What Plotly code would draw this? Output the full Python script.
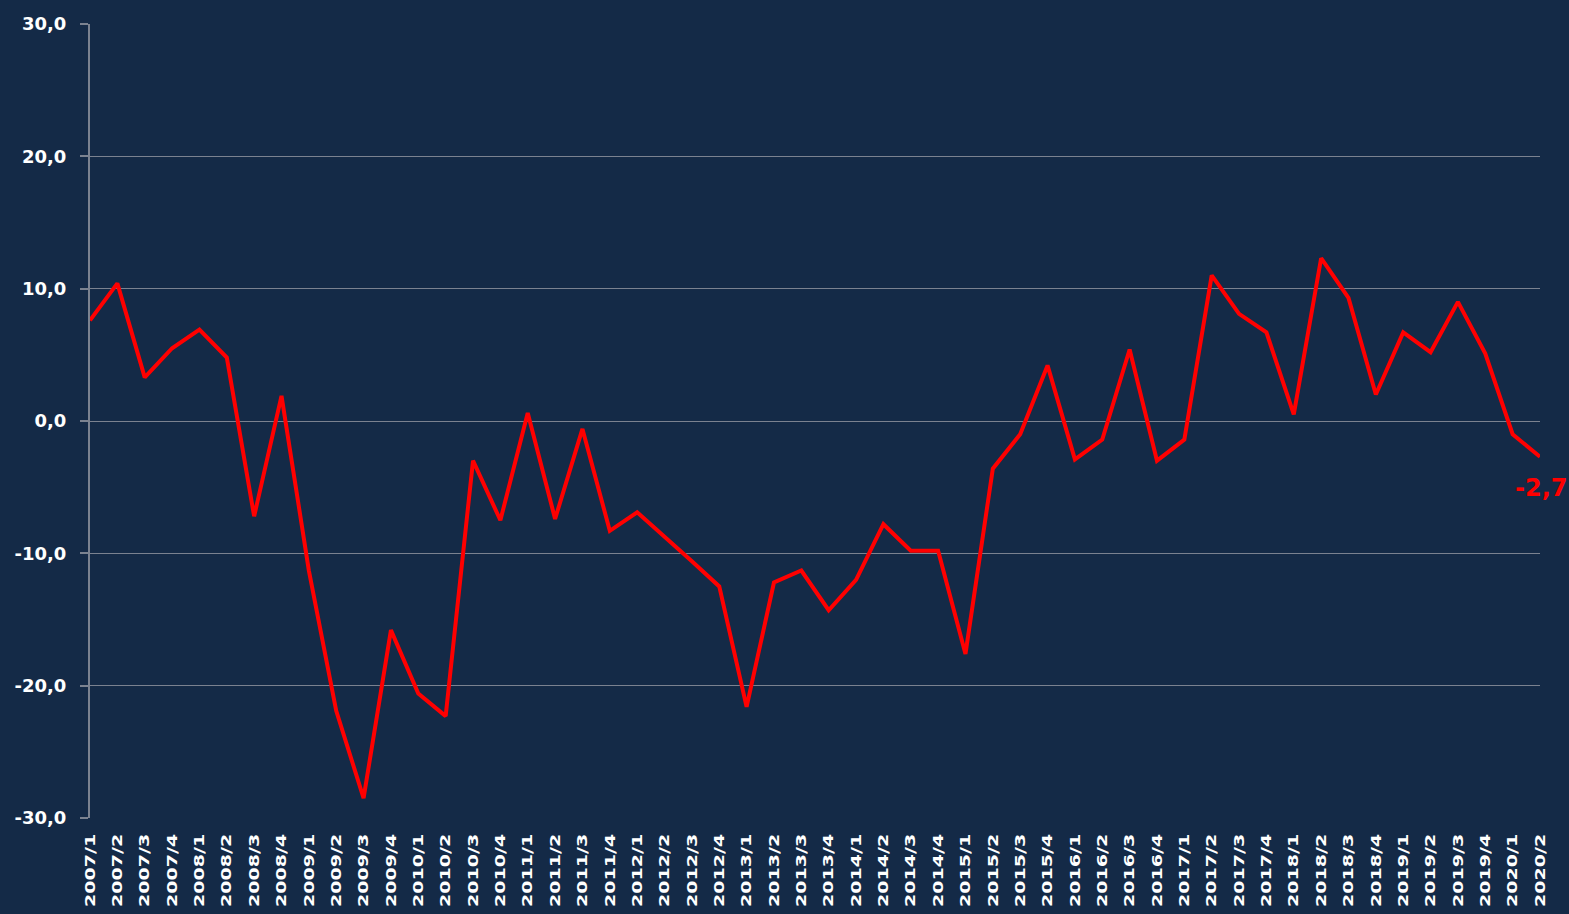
import plotly.graph_objects as go

categories = [f"{y}/{q}" for y in range(2007, 2021) for q in range(1, 5)][:54]
values = [7.6, 10.4, 3.3, 5.5, 6.9, 4.8, -7.2, 1.9,
          -11.3, -21.9, -28.5, -15.8, -20.6, -22.3, -3.0, -7.5,
          0.6, -7.4, -0.6, -8.3, -6.9, -8.7, -10.6, -12.5,
          -21.6, -12.2, -11.3, -14.3, -12.0, -7.8, -9.8, -9.8,
          -17.6, -3.6, -1.0, 4.2, -2.9, -1.4, 5.4, -3.0,
          -1.4, 11.0, 8.1, 6.7, 0.5, 12.3, 9.3, 2.0,
          6.7, 5.2, 9.0, 5.1, -1.0, -2.7]
yticks = [-30, -20, -10, 0, 10, 20, 30]
ytick_text = ["-30,0", "-20,0", "-10,0", "0,0", "10,0", "20,0", "30,0"]
last_label = "-2,7"

BG = "#142a47"
GRID = "#7b8290"
FONT = "DejaVu Sans"

fig = go.Figure()
fig.add_trace(go.Scatter(x=categories, y=values, mode="lines",
                         line=dict(color="#ff0000", width=4), cliponaxis=False))

fig.add_annotation(x=categories[-1], y=values[-1], text=last_label, showarrow=False,
                   xanchor="left", yanchor="middle", xshift=-27, yshift=-31,
                   font=dict(family=FONT, size=24, color="#ff0000", weight="bold"))

fig.update_layout(
    width=1569, height=914,
    paper_bgcolor=BG, plot_bgcolor=BG,
    margin=dict(l=90, r=29, t=24, b=96),
    showlegend=False,
    font=dict(family=FONT, color="white"),
)
fig.update_xaxes(
    type="category", range=[0, len(categories) - 1], automargin=False,
    tickangle=-90, showgrid=False, showline=False, ticks="",
    tickfont=dict(family=FONT, size=14.5, color="white", weight="bold"),
    ticklabelstandoff=12,
)
fig.update_yaxes(
    range=[-30, 30], tickvals=yticks, ticktext=ytick_text, automargin=False,
    showgrid=True, gridcolor=GRID, gridwidth=1,
    showline=True, linecolor=GRID, linewidth=2,
    ticks="outside", ticklen=8, tickcolor=GRID, tickwidth=2,
    zeroline=False,
    tickfont=dict(family=FONT, size=18, color="white", weight="bold"),
    ticklabelstandoff=10,
)

post = (
    "document.body.style.margin='0';document.body.style.overflow='hidden';"
    "document.querySelectorAll('.xtick text').forEach(function(t){"
    "t.setAttribute('textLength','73');t.setAttribute('lengthAdjust','spacingAndGlyphs');});"
)
fig.write_html("out.html", config={"displayModeBar": False}, post_script=post)
